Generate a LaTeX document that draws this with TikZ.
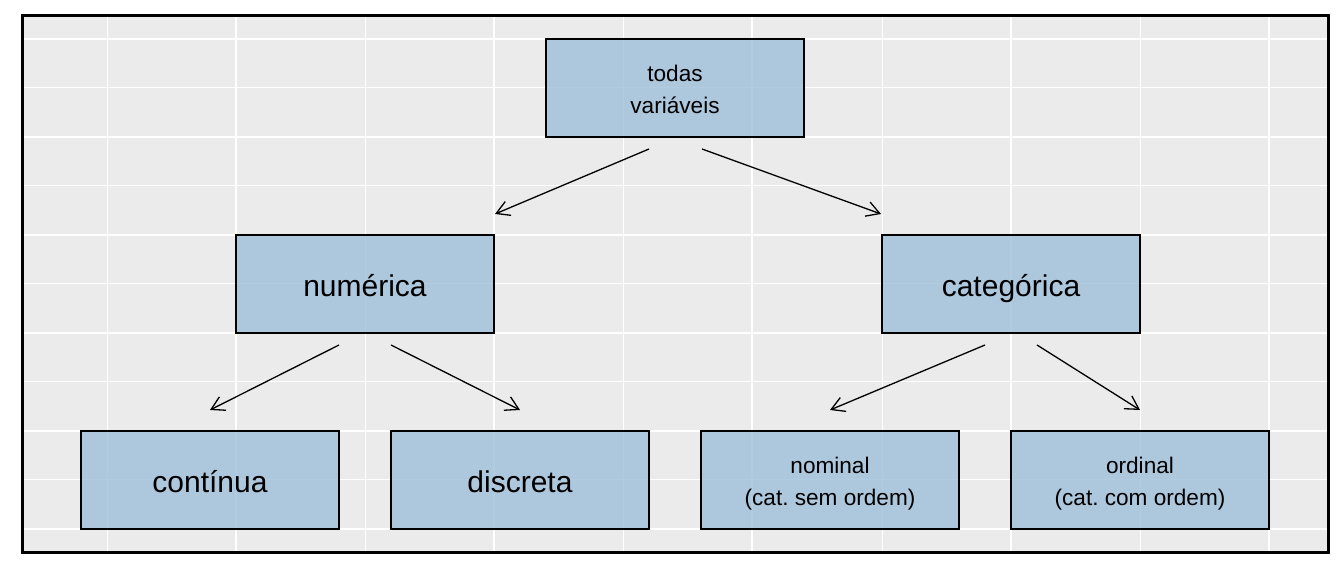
\documentclass[tikz,border=0pt]{standalone}
\usepackage{fontspec}
\setmainfont{Liberation Sans}
\usetikzlibrary{calc,arrows.meta}
\definecolor{panelgrey}{HTML}{EBEBEB}
\definecolor{boxblue}{RGB}{158,191,218}

\begin{document}
\begin{tikzpicture}[x=0.5pt, y=-0.5pt,
  major/.style={draw=white, line width=0.85pt},
  minor/.style={draw=white, line width=0.5pt},
  varbox/.style={draw=black, line width=1pt, fill=boxblue,
               fill opacity=0.8, text opacity=1, inner sep=0pt,
               minimum width=129pt, minimum height=49pt, align=center},
  big/.style={varbox, font=\fontsize{15}{18}\selectfont,
               text height=15pt, text depth=2pt},
  small/.style={varbox, font=\fontsize{11.3}{16}\selectfont,
               text height=27.5pt, text depth=2pt},
  link/.style={line width=0.65pt, -{Straight Barb[length=6.5pt, width=7.5pt]}},
]
\useasboundingbox (0,0) rectangle (1344,576);

% Grey panel with its white grid (drawn first, boxes on top).
\fill[panelgrey] (22.5,15.5) rectangle (1328,553);
\foreach \gx in {107,365,623,882,1140}
  \draw[minor] (\gx,15.5) -- (\gx,553);
\foreach \gy in {88,186,284,382,480}
  \draw[minor] (22.5,\gy) -- (1328,\gy);
\foreach \gx in {236,494,752,1011,1269}
  \draw[major] (\gx,15.5) -- (\gx,553);
\foreach \gy in {39,137,235,333,431,529}
  \draw[major] (22.5,\gy) -- (1328,\gy);
\draw[line width=1.5pt] (22.5,15.5) rectangle (1328,553);

% Top of the tree.
\node[small] (todas) at (675,88) {todas\\variáveis};

% Second level.
\node[big] (num) at (365,284) {numérica};
\node[big] (cat) at (1011,284) {categórica};

% Leaves.
\node[big] (cont) at (210,480) {contínua};
\node[big] (disc) at (520,480) {discreta};
\node[small] (nom) at (830,480) {nominal\\(cat.\ sem ordem)};
\node[small] (ord) at (1140,480) {ordinal\\(cat.\ com ordem)};

% Arrows, with a gap left at both ends.
\draw[link] ($(todas.south)+(-26,11)$) -- ($(num.north east)+(0,-20)$);
\draw[link] ($(todas.south)+(27,11)$) -- ($(cat.north west)+(0,-20)$);
\draw[link] ($(num.south)+(-26,11)$) -- ($(cont.north)+(0,-20)$);
\draw[link] ($(num.south)+(26,11)$) -- ($(disc.north)+(0,-20)$);
\draw[link] ($(cat.south)+(-26,11)$) -- ($(nom.north)+(0,-20)$);
\draw[link] ($(cat.south)+(26,11)$) -- ($(ord.north)+(0,-20)$);

\end{tikzpicture}
\end{document}
